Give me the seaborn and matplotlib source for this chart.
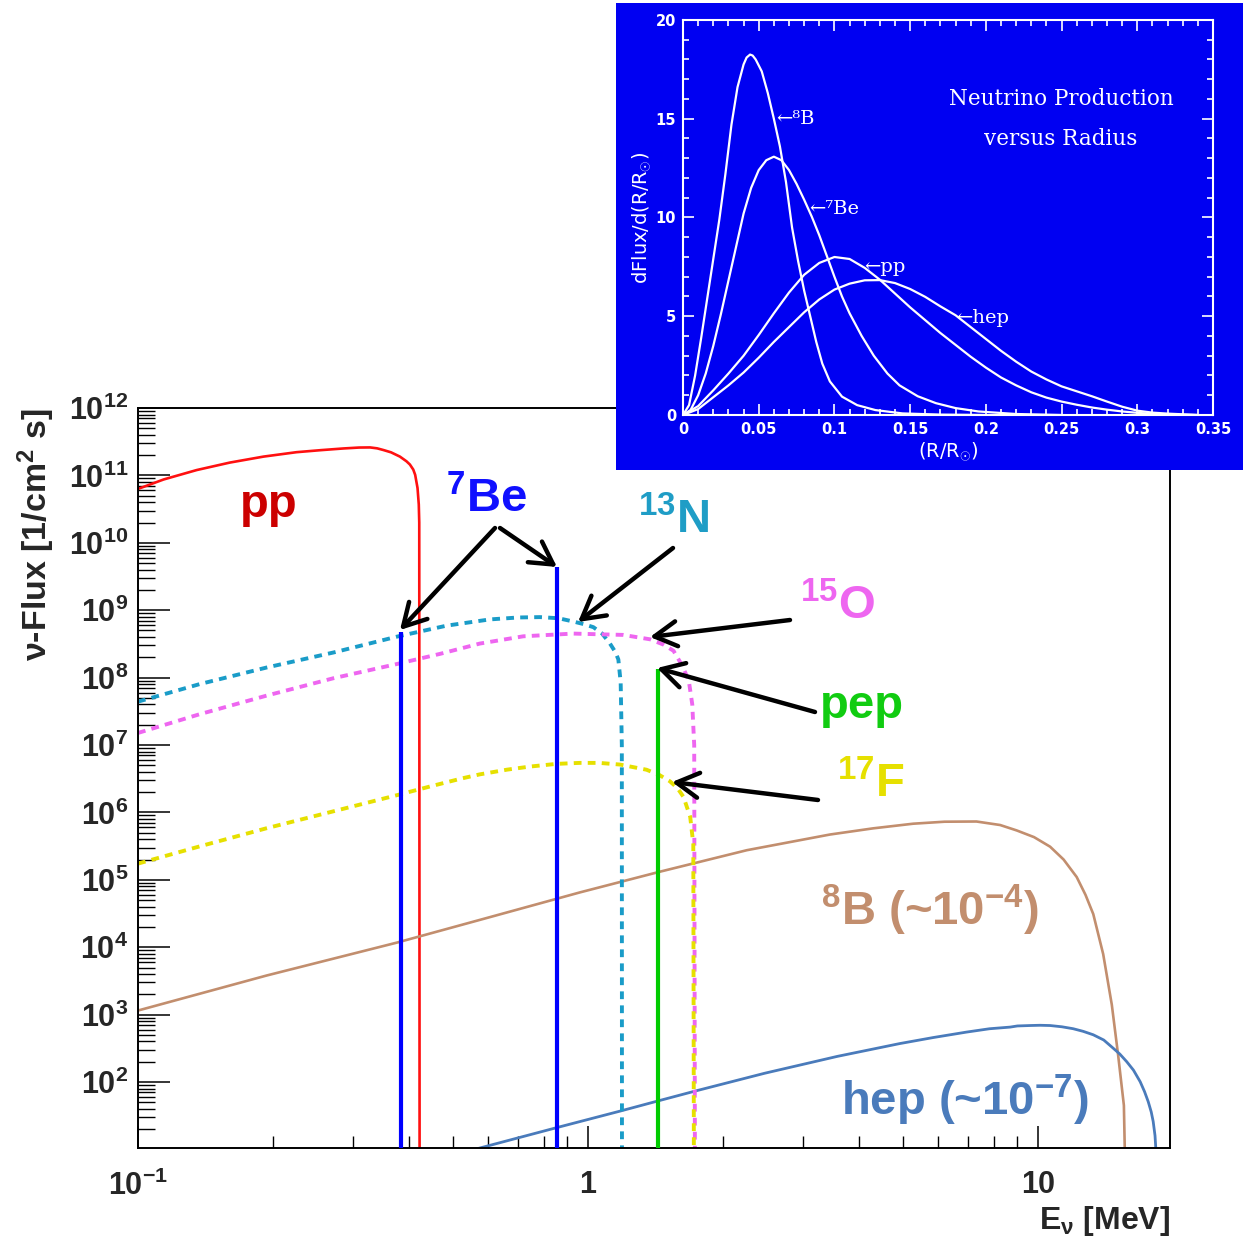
import numpy as np
import matplotlib
matplotlib.use("Agg")
import matplotlib.pyplot as plt
import seaborn as sns
from matplotlib.ticker import LogLocator, FixedLocator, FixedFormatter, NullFormatter, MultipleLocator

# ---------------- main chart data: E [MeV], flux [1/cm^2 s] ----------------
pp_E    = [0.100, 0.114, 0.135, 0.160, 0.190, 0.225, 0.255, 0.286, 0.310, 0.328, 0.340, 0.351, 0.365,
           0.382, 0.395, 0.402, 0.409, 0.413, 0.418, 0.4207, 0.4217, 0.4225]
pp_flux = [6.3e10, 8.7e10, 1.2e11, 1.55e11, 1.9e11, 2.21e11, 2.37e11, 2.51e11, 2.59e11, 2.6e11, 2.52e11, 2.38e11, 2.2e11,
           1.9e11, 1.62e11, 1.45e11, 1.22e11, 1.02e11, 6.5e10, 3.7e10, 2.0e10, 1.0]

n13_E    = [0.100, 0.137, 0.193, 0.272, 0.376, 0.485, 0.605, 0.700, 0.782, 0.860, 0.927, 0.980, 1.028, 1.075, 1.119,
            1.150, 1.168, 1.182, 1.189, 1.190]
n13_flux = [4.4e7, 8.0e7, 1.41e8, 2.36e8, 4.05e8, 5.9e8, 7.3e8, 7.8e8, 7.9e8, 7.6e8, 6.8e8, 6.2e8, 5.6e8, 4.5e8, 3.2e8,
            2.4e8, 1.86e8, 8.5e7, 1.0e7, 1.0]

o15_E    = [0.100, 0.137, 0.193, 0.272, 0.376, 0.469, 0.575, 0.718, 0.927, 1.197, 1.374, 1.470, 1.549, 1.620, 1.675,
            1.705, 1.722, 1.729]
o15_flux = [1.51e7, 2.86e7, 5.4e7, 9.8e7, 1.59e8, 2.25e8, 3.2e8, 4.1e8, 4.5e8, 4.3e8, 3.7e8, 3.1e8, 2.5e8, 1.5e8, 9.0e7,
            4.0e7, 1.0e7, 1.0]

f17_E    = [0.100, 0.137, 0.193, 0.272, 0.376, 0.446, 0.525, 0.575, 0.661, 0.743, 0.851, 0.959, 1.059, 1.178, 1.349,
            1.440, 1.520, 1.580, 1.630, 1.687, 1.714, 1.720]
f17_flux = [1.74e5, 3.13e5, 5.82e5, 1.04e6, 1.80e6, 2.43e6, 3.2e6, 3.67e6, 4.31e6, 4.79e6, 5.25e6, 5.43e6, 5.43e6, 5.13e6, 4.3e6,
            3.6e6, 2.9e6, 2.3e6, 1.7e6, 8.6e5, 3.4e5, 1.0]

b8_E    = [0.100, 0.193, 0.376, 0.600, 0.959, 1.445, 2.254, 3.45, 4.30, 5.28, 6.20, 7.30, 8.24, 8.97, 9.80, 10.64, 11.40,
           12.19, 12.75, 13.27, 13.96, 14.59, 15.07, 15.52, 15.70]
b8_flux = [1.15e3, 3.8e3, 1.17e4, 2.75e4, 6.5e4, 1.32e5, 2.75e5, 4.7e5, 5.8e5, 6.8e5, 7.28e5, 7.33e5, 6.5e5, 5.4e5, 4.3e5,
           3.1e5, 2.0e5, 1.1e5, 6.0e4, 3.1e4, 7.9e3, 1.4e3, 2.5e2, 45, 1.0]

hep_E    = [0.55, 0.86, 1.178, 1.432, 1.738, 2.47, 3.58, 4.93, 5.85, 6.93, 7.80, 8.67, 9.00, 9.60, 10.10, 10.64, 11.30,
            11.97, 12.60, 13.27, 14.00, 14.69, 15.20, 15.74, 16.30, 16.87, 17.25, 17.58, 17.85, 18.03, 18.20, 18.28, 18.41]
hep_flux = [9.7, 21.4, 37, 52.5, 74, 135, 240, 372, 457, 550, 617, 653, 679, 689, 695, 689, 660,
            618, 565, 502, 420, 318, 260, 201, 150, 101, 72, 51, 36, 26, 16, 10, 1.0]

be7_E    = [0.384, 0.855]
be7_flux = [4.7e8, 4.4e9]
pep_E    = [1.43]
pep_flux = [1.33e8]

y_tick_exponents = list(range(2, 13))
x_tick_values = [0.1, 1, 10]
x_tick_labels = [r"$\mathbf{10^{-1}}$", r"$\mathbf{1}$", r"$\mathbf{10}$"]

# ---------------- inset data: R/Rsun, dFlux/d(R/Rsun) ----------------
r_b8  = [0.0, 0.004, 0.008, 0.012, 0.016, 0.020, 0.024, 0.028, 0.032, 0.036, 0.040, 0.042, 0.0443, 0.046, 0.048, 0.052,
         0.056, 0.060, 0.064, 0.068, 0.072, 0.076, 0.080, 0.084, 0.088, 0.092, 0.097, 0.105, 0.115, 0.127, 0.145, 0.170, 0.200]
v_b8  = [0.0, 0.5, 2.0, 3.9, 5.9, 7.9, 9.9, 12.2, 14.7, 16.6, 17.75, 18.1, 18.25, 18.2, 18.0, 17.4,
         16.3, 15.0, 13.6, 11.8, 9.5, 7.8, 6.3, 5.0, 3.7, 2.6, 1.7, 0.93, 0.5, 0.25, 0.08, 0.02, 0.0]
r_be7 = [0.0, 0.005, 0.010, 0.015, 0.020, 0.025, 0.030, 0.035, 0.040, 0.045, 0.050, 0.055, 0.060, 0.065, 0.070,
         0.075, 0.080, 0.085, 0.090, 0.095, 0.100, 0.105, 0.110, 0.118, 0.126, 0.135, 0.143, 0.155, 0.167, 0.180,
         0.195, 0.220, 0.250]
v_be7 = [0.0, 0.25, 1.0, 2.1, 3.5, 5.1, 6.8, 8.5, 10.2, 11.5, 12.4, 12.9, 13.08, 12.9, 12.4,
         11.7, 10.9, 10.05, 9.1, 8.05, 7.0, 6.0, 5.15, 4.0, 3.0, 2.1, 1.5, 0.95, 0.6, 0.35,
         0.18, 0.05, 0.0]
r_pp  = [0.0, 0.01, 0.02, 0.03, 0.04, 0.05, 0.06, 0.07, 0.08, 0.09, 0.10, 0.11, 0.12, 0.13, 0.14, 0.15, 0.16, 0.17,
         0.18, 0.19, 0.20, 0.21, 0.22, 0.23, 0.24, 0.25, 0.26, 0.27, 0.28, 0.29, 0.30, 0.31, 0.32, 0.34]
v_pp  = [0.0, 0.45, 1.25, 2.1, 3.0, 4.05, 5.15, 6.2, 7.1, 7.7, 8.0, 7.9, 7.45, 6.85, 6.15, 5.45, 4.8, 4.15,
         3.55, 2.95, 2.4, 1.9, 1.5, 1.15, 0.88, 0.68, 0.52, 0.38, 0.27, 0.18, 0.11, 0.06, 0.03, 0.0]
r_hep = [0.0, 0.01, 0.02, 0.03, 0.04, 0.05, 0.06, 0.07, 0.08, 0.09, 0.10, 0.11, 0.12, 0.13, 0.14, 0.15, 0.16, 0.17,
         0.18, 0.19, 0.20, 0.21, 0.22, 0.23, 0.24, 0.25, 0.26, 0.27, 0.28, 0.29, 0.30, 0.31, 0.32, 0.34]
v_hep = [0.0, 0.3, 0.9, 1.5, 2.15, 2.9, 3.7, 4.45, 5.2, 5.85, 6.35, 6.65, 6.82, 6.83, 6.68, 6.38, 5.98, 5.5,
         5.05, 4.45, 3.85, 3.25, 2.7, 2.2, 1.8, 1.45, 1.2, 0.95, 0.68, 0.42, 0.22, 0.12, 0.07, 0.0]

inset_x_ticks = [0, 0.05, 0.1, 0.15, 0.2, 0.25, 0.3, 0.35]
inset_x_labels = ["0", "0.05", "0.1", "0.15", "0.2", "0.25", "0.3", "0.35"]
inset_y_ticks = [0, 5, 10, 15, 20]
inset_y_labels = ["0", "5", "10", "15", "20"]

# ---------------- style ----------------
sns.set_style("ticks")
plt.rcParams["font.family"] = ["Liberation Sans", "DejaVu Sans"]
plt.rcParams["mathtext.fontset"] = "custom"
plt.rcParams["mathtext.rm"] = "Liberation Sans"
plt.rcParams["mathtext.bf"] = "Liberation Sans:bold"
plt.rcParams["mathtext.it"] = "Liberation Sans:italic"
plt.rcParams["lines.solid_joinstyle"] = "round"

W, H = 1243, 1238
fig = plt.figure(figsize=(W / 100, H / 100), dpi=100)
fig.patch.set_facecolor("white")


def fx(x):
    return x / W


def fy(y):
    return 1 - y / H


# ---------------- main axes ----------------
ax = fig.add_axes([fx(138), fy(1148), (1170 - 138) / W, (1148 - 408) / H])
ax.set_xscale("log")
ax.set_yscale("log")
YMIN = 10.5
ax.set_xlim(0.1, 19.65)
ax.set_ylim(YMIN, 1e12)

dot = (0, (2.0, 1.6))
curves = [
    (pp_E, pp_flux, "#ff1010", 1.9, "-"),
    (b8_E, b8_flux, "#c28e6e", 1.9, "-"),
    (hep_E, hep_flux, "#4a7bbb", 2.0, "-"),
    (n13_E, n13_flux, "#1a9cc8", 2.8, dot),
    (o15_E, o15_flux, "#ee66f0", 2.8, dot),
    (f17_E, f17_flux, "#e6e000", 2.8, dot),
]
for E, F, color, lw, ls in curves:
    sns.lineplot(x=E, y=F, ax=ax, color=color, lw=lw, linestyle=ls,
                 sort=False, estimator=None)

ax.vlines(be7_E, YMIN, be7_flux, color="#0000ff", lw=3.0, zorder=3)
ax.vlines(pep_E, YMIN, pep_flux, color="#00cc00", lw=3.0, zorder=3)

ax.yaxis.set_major_locator(FixedLocator([10.0 ** e for e in y_tick_exponents]))
ax.yaxis.set_major_formatter(FixedFormatter([r"$\mathbf{10^{%d}}$" % e for e in y_tick_exponents]))
ax.yaxis.set_minor_locator(LogLocator(base=10, subs=np.arange(2, 10), numticks=100))
ax.yaxis.set_minor_formatter(NullFormatter())
ax.xaxis.set_major_locator(FixedLocator(x_tick_values))
ax.xaxis.set_major_formatter(FixedFormatter(x_tick_labels))
ax.xaxis.set_minor_locator(LogLocator(base=10, subs=np.arange(2, 10), numticks=100))
ax.xaxis.set_minor_formatter(NullFormatter())

ax.tick_params(axis="y", which="major", direction="in", length=23, width=1.1, labelsize=22, pad=7, color="black")
ax.tick_params(axis="y", which="minor", direction="in", length=12, width=1.0, color="black")
ax.tick_params(axis="x", which="major", direction="in", length=16, width=1.1, labelsize=22, pad=16, color="black")
ax.tick_params(axis="x", which="minor", direction="in", length=8.5, width=1.0, color="black")
for s in ax.spines.values():
    s.set_linewidth(1.4)
    s.set_color("black")
ax.set_xlabel("")
ax.set_ylabel("")

fig.text(fx(36), fy(408), "ν-Flux [1/cm$^{\\mathbf{2}}$ s]", rotation=90, ha="center", va="top",
         fontsize=24.5, fontweight="bold")
fig.text(fx(1170), fy(1229), r"E$_{\mathbf{\nu}}$ [MeV]", ha="right", va="baseline",
         fontsize=23, fontweight="bold")

# series labels
lab_kw = dict(fontsize=34, fontweight="bold", ha="left", va="baseline")
fig.text(fx(240), fy(517), "pp", color="#cc0000", **lab_kw)
fig.text(fx(446), fy(512), r"${}^{\mathbf{7}}$Be", color="#1010ff", **lab_kw)
fig.text(fx(638), fy(533), r"${}^{\mathbf{13}}$N", color="#1f9dc6", **lab_kw)
fig.text(fx(800), fy(619), r"${}^{\mathbf{15}}$O", color="#ee66f0", **lab_kw)
fig.text(fx(820), fy(718), "pep", color="#11cc11", **lab_kw)
fig.text(fx(837), fy(797), r"${}^{\mathbf{17}}$F", color="#e6e000", **lab_kw)
fig.text(fx(821), fy(925), r"${}^{\mathbf{8}}$B (~10$^{\mathbf{-4}}$)", color="#c28e6e", **lab_kw)
fig.text(fx(841), fy(1115), r"hep (~10$^{\mathbf{-7}}$)", color="#4a7bbb", **lab_kw)

# arrows
arrow_kw = dict(arrowstyle="->,head_length=0.8,head_width=0.45", lw=3.2, color="black",
                mutation_scale=20, shrinkA=0, shrinkB=0)
for (x0, y0), (x1, y1) in [
    ((495, 528), (400, 630)),
    ((500, 528), (557, 567)),
    ((673, 548), (578, 622)),
    ((790, 620), (650, 637)),
    ((815, 712), (657, 668)),
    ((818, 800), (672, 782)),
]:
    ax.annotate("", xy=(fx(x1), fy(y1)), xycoords="figure fraction",
                xytext=(fx(x0), fy(y0)), textcoords="figure fraction",
                arrowprops=arrow_kw)

# ---------------- inset ----------------
bg = fig.add_axes([fx(616), fy(470), (W - 616) / W, (470 - 3) / H])
bg.set_facecolor("#0000f2")
bg.set_xticks([])
bg.set_yticks([])
for s in bg.spines.values():
    s.set_visible(False)
bg.set_zorder(5)

ins = fig.add_axes([fx(683), fy(415), (1213 - 683) / W, (415 - 20) / H])
ins.set_zorder(6)
ins.patch.set_alpha(0)
for r, v in [(r_b8, v_b8), (r_be7, v_be7), (r_pp, v_pp), (r_hep, v_hep)]:
    sns.lineplot(x=r, y=v, ax=ins, color="white", lw=1.6, sort=False, estimator=None)
ins.set_xlim(0, 0.35)
ins.set_ylim(0, 20)
ins.xaxis.set_major_locator(FixedLocator(inset_x_ticks))
ins.xaxis.set_major_formatter(FixedFormatter(inset_x_labels))
ins.xaxis.set_minor_locator(MultipleLocator(0.01))
ins.yaxis.set_major_locator(FixedLocator(inset_y_ticks))
ins.yaxis.set_major_formatter(FixedFormatter(inset_y_labels))
ins.yaxis.set_minor_locator(MultipleLocator(1))
ins.tick_params(which="both", direction="in", top=True, right=True, colors="white",
                labelsize=10.5, width=1.2)
ins.tick_params(which="major", length=8, pad=5)
ins.tick_params(which="minor", length=4)
for lab in ins.get_xticklabels() + ins.get_yticklabels():
    lab.set_family("DejaVu Sans")
    lab.set_fontweight("bold")
for s in ins.spines.values():
    s.set_color("white")
    s.set_linewidth(1.5)
ins.set_xlabel("")
ins.set_ylabel("")

serif = ["DejaVu Serif"]
fig.text(fx(641), fy(218), r"dFlux/d(R/R$_{\odot}$)", rotation=90, ha="center", va="center",
         color="white", fontsize=14, family=["DejaVu Sans"], zorder=10)
fig.text(fx(948), fy(451), r"(R/R$_{\odot}$)", ha="center", va="center",
         color="white", fontsize=14, family=["DejaVu Sans"], zorder=10)
fig.text(fx(1061), fy(99), "Neutrino Production", ha="center", va="center",
         color="white", fontsize=15.5, family=serif, zorder=10)
fig.text(fx(1061), fy(139), "versus Radius", ha="center", va="center",
         color="white", fontsize=15.5, family=serif, zorder=10)
for x, y, s in [(776, 119, "←⁸B"), (809, 209, "←⁷Be"), (864, 267, "←pp"), (956, 318, "←hep")]:
    fig.text(fx(x), fy(y), s, ha="left", va="center", color="white", fontsize=14,
             family=serif, zorder=10)

fig.savefig("out.png", dpi=100, facecolor="white")
